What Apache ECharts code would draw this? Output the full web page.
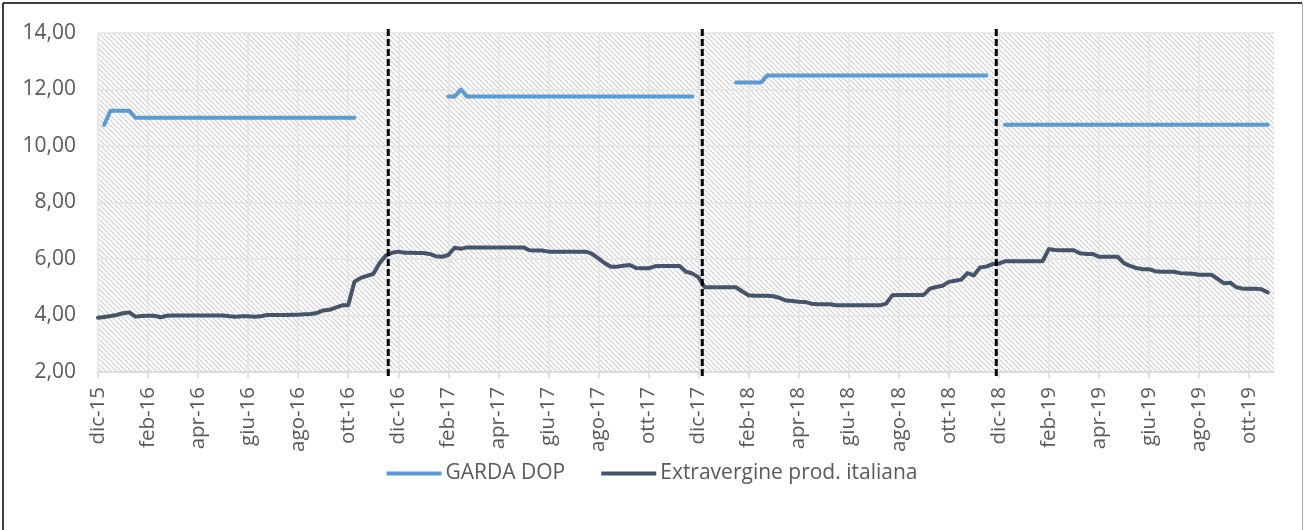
<!DOCTYPE html>
<html>
<head>
<meta charset="utf-8">
<script src="https://cdn.jsdelivr.net/npm/echarts@6/dist/echarts.min.js"></script>
<style>
html,body{margin:0;padding:0;background:#fff;}
#chart{width:1304px;height:530px;}
</style>
</head>
<body>
<div id="chart"></div>
<script>
// Tick labels (one every two months); the axis has 4 slots per month
const tickLabels = ['dic-15','feb-16','apr-16','giu-16','ago-16','ott-16','dic-16','feb-17','apr-17','giu-17','ago-17','ott-17','dic-17','feb-18','apr-18','giu-18','ago-18','ott-18','dic-18','feb-19','apr-19','giu-19','ago-19','ott-19'];
const slotsPerTick = 8;

const gardaDop = [
null,10.75,11.25,11.25,11.25,11.25,11.00,11.00,11.00,11.00,
11.00,11.00,11.00,11.00,11.00,11.00,11.00,11.00,11.00,11.00,
11.00,11.00,11.00,11.00,11.00,11.00,11.00,11.00,11.00,11.00,
11.00,11.00,11.00,11.00,11.00,11.00,11.00,11.00,11.00,11.00,
11.00,11.00,null,null,null,null,null,null,null,null,
null,null,null,null,null,null,11.75,11.75,12.00,11.75,
11.75,11.75,11.75,11.75,11.75,11.75,11.75,11.75,11.75,11.75,
11.75,11.75,11.75,11.75,11.75,11.75,11.75,11.75,11.75,11.75,
11.75,11.75,11.75,11.75,11.75,11.75,11.75,11.75,11.75,11.75,
11.75,11.75,11.75,11.75,11.75,11.75,null,null,null,null,
null,null,12.25,12.25,12.25,12.25,12.25,12.50,12.50,12.50,
12.50,12.50,12.50,12.50,12.50,12.50,12.50,12.50,12.50,12.50,
12.50,12.50,12.50,12.50,12.50,12.50,12.50,12.50,12.50,12.50,
12.50,12.50,12.50,12.50,12.50,12.50,12.50,12.50,12.50,12.50,
12.50,12.50,12.50,null,null,10.75,10.75,10.75,10.75,10.75,
10.75,10.75,10.75,10.75,10.75,10.75,10.75,10.75,10.75,10.75,
10.75,10.75,10.75,10.75,10.75,10.75,10.75,10.75,10.75,10.75,
10.75,10.75,10.75,10.75,10.75,10.75,10.75,10.75,10.75,10.75,
10.75,10.75,10.75,10.75,10.75,10.75,10.75,10.75,null
];

const extravergine = [
3.92,3.95,3.98,4.02,4.08,4.11,3.96,3.98,3.99,3.99,
3.94,3.99,4.00,4.00,4.00,4.00,4.00,4.00,4.00,4.00,
4.00,3.97,3.96,3.97,3.97,3.96,3.97,4.02,4.02,4.02,
4.02,4.03,4.03,4.04,4.05,4.09,4.18,4.20,4.28,4.36,
4.36,5.20,5.33,5.40,5.47,5.85,6.12,6.22,6.26,6.22,
6.22,6.21,6.21,6.18,6.10,6.08,6.14,6.40,6.36,6.41,
6.41,6.41,6.41,6.41,6.41,6.41,6.41,6.41,6.41,6.31,
6.30,6.30,6.26,6.26,6.26,6.26,6.26,6.26,6.26,6.18,
6.02,5.85,5.73,5.73,5.76,5.79,5.68,5.67,5.67,5.74,
5.75,5.75,5.75,5.75,5.55,5.49,5.35,5.00,5.00,5.00,
5.00,5.00,5.00,4.85,4.72,4.70,4.70,4.70,4.68,4.62,
4.53,4.51,4.49,4.48,4.42,4.40,4.40,4.40,4.36,4.36,
4.36,4.36,4.36,4.36,4.36,4.36,4.42,4.72,4.73,4.73,
4.73,4.73,4.73,4.95,5.01,5.05,5.19,5.23,5.27,5.50,
5.42,5.70,5.73,5.82,5.84,5.92,5.92,5.92,5.92,5.92,
5.92,5.92,6.35,6.32,6.31,6.31,6.31,6.20,6.18,6.18,
6.08,6.08,6.08,6.08,5.85,5.76,5.68,5.64,5.64,5.57,
5.55,5.55,5.55,5.50,5.49,5.48,5.44,5.44,5.44,5.30,
5.14,5.16,5.00,4.95,4.95,4.95,4.93,4.82,null
];

// Season separators (positions in slot units on the time axis)
const separators = [46.4, 96.6, 143.6];
const separatorRange = [1.86, 14.14];

const slots = extravergine.map((_, i) => String(i));

// hatch pattern for plot background
const pc = document.createElement('canvas');
const S = 5;
pc.width = S; pc.height = S;
const ctx = pc.getContext('2d');
ctx.fillStyle = '#ffffff';
ctx.fillRect(0, 0, S, S);
ctx.strokeStyle = '#cdcdcd';
ctx.lineWidth = 1.1;
for (const k of [-S, 0, S]) {
  ctx.beginPath();
  ctx.moveTo(k, 0);
  ctx.lineTo(k + S, S);
  ctx.stroke();
}

const FONT = '"Open Sans", "Liberation Sans", sans-serif';
const isTick = (i) => i % slotsPerTick === 0;

const chart = echarts.init(document.getElementById('chart'), null, {renderer: 'canvas'});

const sepSeries = separators.map((x) => ({
  type: 'line',
  xAxisIndex: 1,
  data: [[x, separatorRange[0]], [x, separatorRange[1]]],
  showSymbol: false,
  symbol: 'none',
  clip: false,
  silent: true,
  z: 5,
  lineStyle: {color: '#000000', width: 3, type: [7, 3]}
}));

chart.setOption({
  animation: false,
  backgroundColor: '#ffffff',
  grid: {
    left: 98, right: 30, top: 33, bottom: 158,
    show: true,
    backgroundColor: {image: pc, repeat: 'repeat'},
    borderWidth: 0,
    containLabel: false,
    outerBoundsMode: 'none'
  },
  legend: {
    data: ['GARDA DOP', 'Extravergine prod. italiana'],
    left: 'center',
    top: 458,
    icon: 'rect',
    itemWidth: 55,
    itemHeight: 4,
    itemGap: 36,
    textStyle: {color: '#595959', fontSize: 21, fontFamily: FONT, padding: [0, 0, 0, -1]}
  },
  xAxis: [{
    type: 'category',
    data: slots,
    boundaryGap: false,
    axisLine: {show: true, lineStyle: {color: '#d9d9d9', width: 1.5}},
    axisTick: {show: true, interval: (i) => isTick(i), length: 6, lineStyle: {color: '#d9d9d9', width: 1.5}},
    splitLine: {show: true, interval: (i) => isTick(i), lineStyle: {color: '#e3e3e3', width: 1.5}},
    axisLabel: {
      interval: (i) => isTick(i),
      formatter: (v, i) => tickLabels[i / slotsPerTick],
      rotate: 90,
      margin: 15,
      color: '#595959',
      fontSize: 20.5,
      fontFamily: FONT
    }
  }, {
    type: 'value',
    min: 0,
    max: slots.length - 1,
    show: false
  }],
  yAxis: {
    type: 'value',
    min: 2,
    max: 14,
    interval: 2,
    axisLine: {show: false},
    axisTick: {show: false},
    splitLine: {show: true, lineStyle: {color: '#e3e3e3', width: 1.5}},
    axisLabel: {
      formatter: (v) => v.toFixed(2).replace('.', ','),
      margin: 22,
      color: '#595959',
      fontSize: 21,
      fontFamily: FONT
    }
  },
  series: [{
    name: 'GARDA DOP',
    type: 'line',
    data: gardaDop,
    showSymbol: false,
    symbol: 'none',
    connectNulls: false,
    color: '#5b9bd5',
    lineStyle: {color: '#5b9bd5', width: 4, cap: 'round', join: 'round'},
    z: 3
  }, {
    name: 'Extravergine prod. italiana',
    type: 'line',
    data: extravergine,
    showSymbol: false,
    symbol: 'none',
    color: '#44546a',
    lineStyle: {color: '#44546a', width: 4, cap: 'round', join: 'round'},
    z: 3
  }].concat(sepSeries),
  graphic: [
    {type: 'line', shape: {x1: 3, y1: 3, x2: 1302, y2: 3}, style: {stroke: '#000000', lineWidth: 1.5}},
    {type: 'line', shape: {x1: 3, y1: 3, x2: 3, y2: 530}, style: {stroke: '#000000', lineWidth: 1.5}},
    {type: 'line', shape: {x1: 1302.5, y1: 3, x2: 1302.5, y2: 530}, style: {stroke: '#a6a6a6', lineWidth: 1}}
  ]
});
</script>
</body>
</html>
